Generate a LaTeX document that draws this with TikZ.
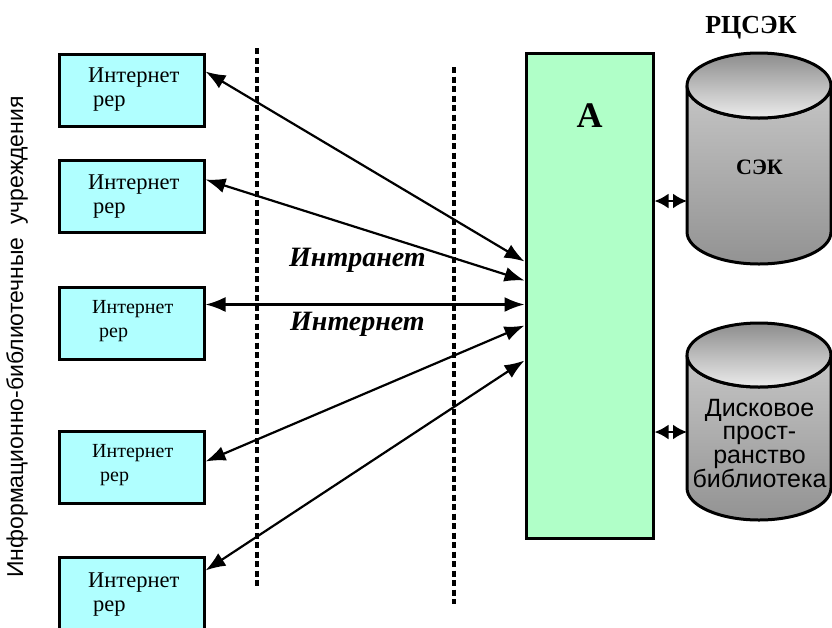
\documentclass[tikz,border=0pt]{standalone}
\usepackage{fontspec}
\setmainfont{Liberation Serif}
\newfontfamily\arialfont{Liberation Sans}
\usetikzlibrary{arrows.meta,calc}
\definecolor{boxcyan}{RGB}{176,255,255}
\definecolor{boxgreen}{RGB}{176,255,200}

\begin{document}
\begin{tikzpicture}[x=1pt,y=1pt,
  netbox/.style={draw, line width=3pt, fill=boxcyan, minimum width=145pt,
    minimum height=72pt, inner sep=0pt},
  hubbox/.style={draw, line width=3pt, fill=boxgreen, minimum width=127pt,
    minimum height=485pt, inner sep=0pt},
  bigtxt/.style={font=\fontsize{22.5}{24}\selectfont, inner sep=0pt, anchor=base west},
  smalltxt/.style={font=\fontsize{20}{22}\selectfont, inner sep=0pt, anchor=base west},
  netlabel/.style={font=\bfseries\itshape\fontsize{28}{30}\selectfont, inner sep=0pt,
    anchor=base west},
  link/.style={line width=2.2pt, {Latex[length=20pt,width=15pt]}-{Latex[length=20pt,width=15pt]}},
  dlink/.style={line width=2.4pt, {Latex[length=14pt,width=15pt]}-{Latex[length=14pt,width=15pt]}},
  zone/.style={line width=3.4pt, dash pattern=on 6pt off 3.5pt},
  cylbody/.style={draw, line width=3pt, top color=gray!45, middle color=white,
    bottom color=gray!85},
  cyltop/.style={draw, line width=3pt, top color=gray!90, bottom color=gray!15},
]
\useasboundingbox (0,0) rectangle (832,-627);
\clip (0,0) rectangle (832,-627);

% zone boundaries
\draw[zone] (257,-48) -- (257,-587);
\draw[zone] (454,-67) -- (454,-604);

% client boxes
\node[netbox] (b1) at (131.5,-90) {};
\node[netbox] (b2) at (131.5,-196.5) {};
\node[netbox] (b3) at (131.5,-323) {};
\node[netbox] (b4) at (131.5,-467) {};
\node[netbox, minimum height=86pt] (b5) at (131.5,-600) {};

\node[bigtxt] (t1) at (88,-82) {Интернет};
\node[bigtxt] (r1) at (93,-106) {рер};
\node[bigtxt] (t2) at (88,-189) {Интернет};
\node[bigtxt] (r2) at (93,-213) {рер};
\node[smalltxt] (t3) at (92,-313) {Интернет};
\node[smalltxt] (r3) at (99,-337) {рер};
\node[smalltxt] (t4) at (92,-457) {Интернет};
\node[smalltxt] (r4) at (100,-481) {рер};
\node[bigtxt] (t5) at (88,-587) {Интернет};
\node[bigtxt] (r5) at (93,-611) {рер};

% central server
\node[hubbox] (A) at (589.5,-295.5) {};
\node[font=\bfseries\fontsize{36}{38}\selectfont, inner sep=0pt, anchor=base]
  (alabel) at (589.5,-127) {А};

% network labels
\node[netlabel] (intra) at (289,-266) {Интранет};
\node[netlabel] (inter) at (290,-330) {Интернет};

% vertical caption
\node[rotate=90, font=\arialfont\fontsize{23}{25}\selectfont, inner sep=0pt]
  (vt) at (17,-337) {Информационно-библиотечные\ \ учреждения};

% title
\node[font=\bfseries\fontsize{26}{28}\selectfont, inner sep=0pt, anchor=base]
  (rc) at (751,-33) {РЦСЭК};

% cylinder 1
\path[cylbody] (687,-85.5) -- (687,-232)
  arc[start angle=180, end angle=360, x radius=72pt, y radius=32pt]
  -- (831,-85.5)
  arc[start angle=0, end angle=-180, x radius=72pt, y radius=32.5pt] -- cycle;
\path[cyltop] (759,-85.5) ellipse [x radius=72pt, y radius=32.5pt];
\node[font=\bfseries\fontsize{22}{24}\selectfont, inner sep=0pt, anchor=base]
  (sek) at (759.5,-174) {СЭК};
\coordinate (c1port) at (687,-201);

% cylinder 2
\path[cylbody] (687,-355) -- (687,-488)
  arc[start angle=180, end angle=360, x radius=72pt, y radius=32pt]
  -- (831,-355)
  arc[start angle=0, end angle=-180, x radius=72pt, y radius=32pt] -- cycle;
\path[cyltop] (759,-355) ellipse [x radius=72pt, y radius=32pt];
\node[align=center, font=\arialfont\fontsize{25}{23.5}\selectfont, inner sep=0pt]
  (disk) at (759.5,-443.5) {Дисковое\\прост-\\ранство\\библиотека};
\coordinate (c2port) at (687,-432);

% links between clients and server
\draw[link] ([yshift=-19pt]b1.north east) -- ([yshift=-210pt]A.north west);
\draw[link] ([yshift=-20.5pt]b2.north east) -- ([yshift=-229pt]A.north west);
\draw[link] ([yshift=-19pt]b3.north east) -- ([yshift=-253pt]A.north west);
\draw[link] ([yshift=-32pt]b4.north east) -- ([yshift=-274pt]A.north west);
\draw[link] ([yshift=-15pt]b5.north east) -- ([yshift=-309pt]A.north west);

% links between server and storage
\draw[dlink] (A.east |- c1port) -- (c1port);
\draw[dlink] (A.east |- c2port) -- (c2port);
\end{tikzpicture}
\end{document}
